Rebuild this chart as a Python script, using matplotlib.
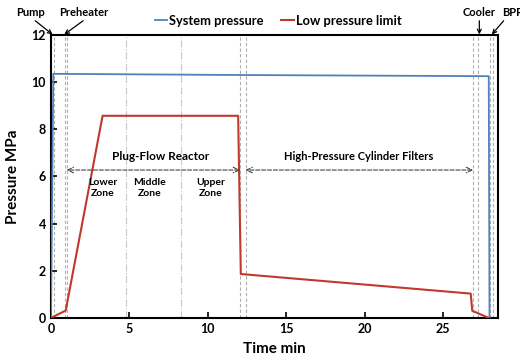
import matplotlib
matplotlib.use("Agg")
import matplotlib.pyplot as plt
from matplotlib.patches import FancyArrowPatch

plt.rcParams['font.family'] = ['Lato', 'DejaVu Sans']

# Data
sys_t = [0.0, 0.15, 12.0, 27.9, 27.95]
sys_p = [0.0, 10.35, 10.3, 10.25, 0.0]
low_t = [0.0, 0.94, 3.29, 11.93, 12.1, 26.75, 26.85, 27.9]
low_p = [0.0, 0.31, 8.57, 8.57, 1.86, 1.03, 0.3, 0.0]

equip_lines = [0.2, 0.9, 1.0, 12.05, 12.4, 26.9, 27.2, 27.95, 28.15]
zone_lines = [4.8, 8.3]

xticks = [0, 5, 10, 15, 20, 25]
yticks = [0, 2, 4, 6, 8, 10, 12]

fig = plt.figure(figsize=(5.2, 3.6), dpi=100)
ax = fig.add_axes([0.098, 0.117, 0.86, 0.786])

for x in equip_lines:
    ax.axvline(x, color='#b0b0b0', lw=0.8, ls=(0, (3, 2)), zorder=1)
for x in zone_lines:
    ax.axvline(x, color='#c8c8c8', lw=0.8, ls='-.', zorder=1)

ax.plot(sys_t, sys_p, color='#4f81bd', lw=1.3, label='System pressure', zorder=3)
ax.plot(low_t, low_p, color='#c0392b', lw=1.5, label='Low pressure limit', zorder=3)

ax.set_xlim(0, 28.5)
ax.set_ylim(0, 12)
ax.set_xticks(xticks)
ax.set_yticks(yticks)
ax.tick_params(direction='in', length=4, width=1.2, labelsize=9)
for lab in ax.get_xticklabels() + ax.get_yticklabels():
    lab.set_fontweight('bold')
for s in ax.spines.values():
    s.set_linewidth(1.5)

ax.set_xlabel('Time min', fontsize=11, fontweight='bold', labelpad=5)
ax.set_ylabel('Pressure MPa', fontsize=11, fontweight='bold', labelpad=8)

leg = ax.legend(loc='lower left', bbox_to_anchor=(0.22, 1.01), ncol=2, frameon=False,
                handlelength=1.0, handletextpad=0.15, columnspacing=1.3,
                prop={'weight': 'bold', 'size': 9.3}, borderaxespad=0)

# Section arrows
ax.annotate('', xy=(1.0, 6.27), xytext=(12.05, 6.27),
            arrowprops=dict(arrowstyle='<->', ls='--', lw=0.8, color='#444444', shrinkA=0, shrinkB=0))
ax.annotate('', xy=(12.4, 6.27), xytext=(26.9, 6.27),
            arrowprops=dict(arrowstyle='<->', ls='--', lw=0.8, color='#444444', shrinkA=0, shrinkB=0))
ax.text(7.0, 6.85, 'Plug-Flow Reactor', ha='center', va='center', fontsize=8.5, fontweight='bold')
ax.text(19.6, 6.85, 'High-Pressure Cylinder Filters', ha='center', va='center', fontsize=8, fontweight='bold')
ax.text(3.3, 5.5, 'Lower\nZone', ha='center', va='center', fontsize=7.5, fontweight='bold', linespacing=1.3)
ax.text(6.3, 5.5, 'Middle\nZone', ha='center', va='center', fontsize=7.5, fontweight='bold', linespacing=1.3)
ax.text(10.2, 5.5, 'Upper\nZone', ha='center', va='center', fontsize=7.5, fontweight='bold', linespacing=1.3)

# Equipment labels above axes
def equip(label, xtext, ytext, tail, head):
    ax.text(xtext, ytext, label, ha='center', va='center', fontsize=8,
            fontweight='bold', clip_on=False)
    p = FancyArrowPatch(tail, head, arrowstyle='->', mutation_scale=7, lw=0.9,
                        color='black', transform=ax.transData, clip_on=False,
                        shrinkA=0, shrinkB=0, zorder=5)
    ax.add_artist(p)

equip('Pump', -1.3, 12.97, (-1.0, 12.6), (0.1, 12.02))
equip('Preheater', 2.1, 12.97, (2.05, 12.6), (0.85, 12.02))
equip('Cooler', 27.3, 12.93, (27.3, 12.6), (27.3, 12.02))
equip('BPR', 29.4, 12.93, (28.85, 12.6), (28.1, 12.02))

fig.savefig('out.png', dpi=100)
